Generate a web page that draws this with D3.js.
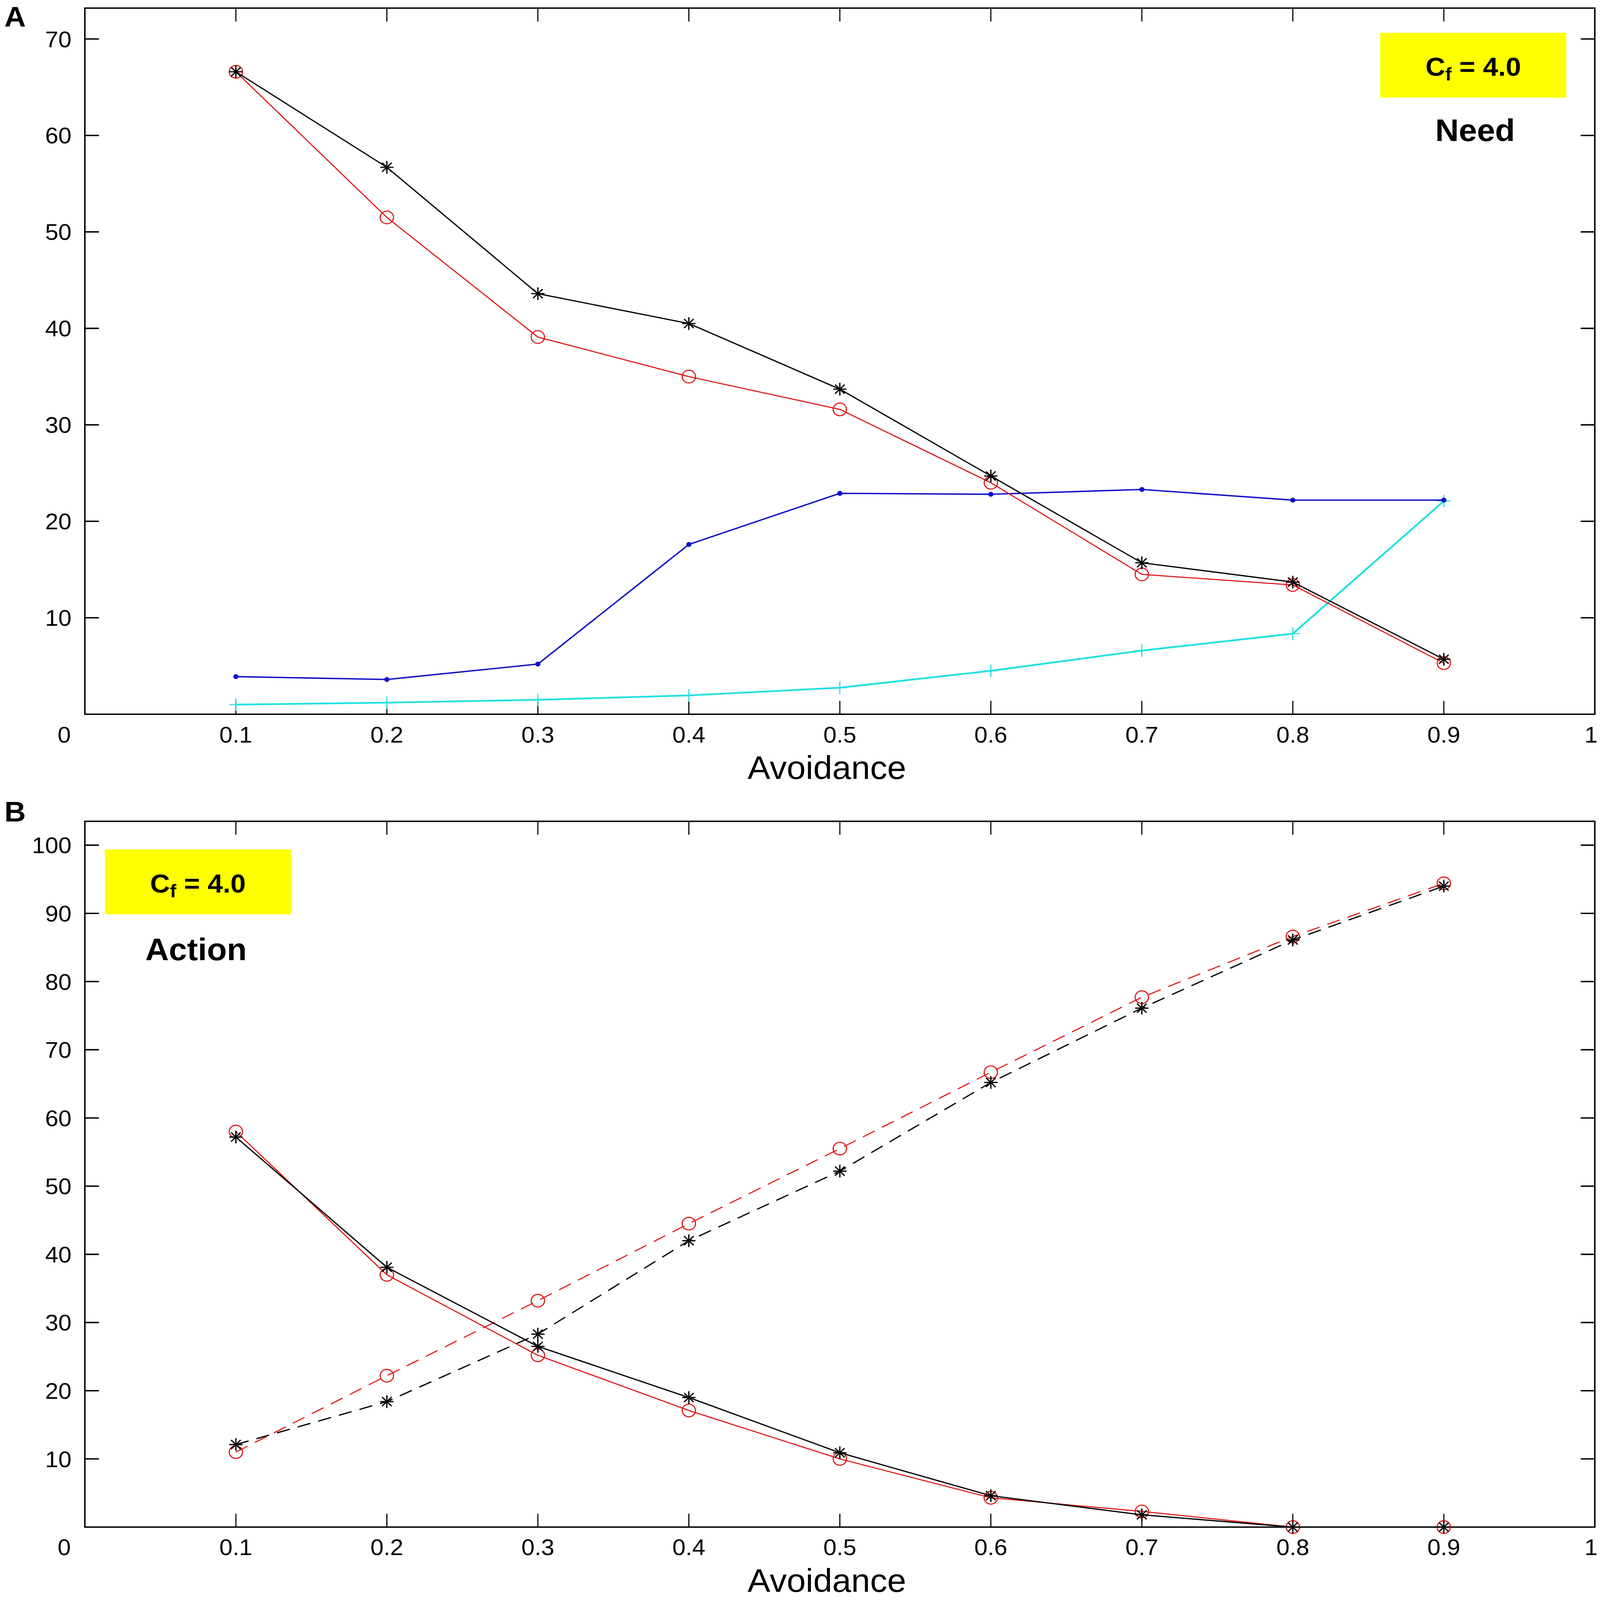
<!DOCTYPE html>
<html>
<head>
<meta charset="utf-8">
<script src="https://cdn.jsdelivr.net/npm/d3@7"></script>
<style>
  html, body { margin: 0; padding: 0; background: #fff; width: 100%; height: 100%; overflow: hidden; }
  svg { display: block; width: 100vw; height: 100vh; }
  text { font-family: "Liberation Sans", Arial, Helvetica, sans-serif; }
</style>
</head>
<body>
<script>
// ---------------- DATA ----------------
const avoidance = [0.1, 0.2, 0.3, 0.4, 0.5, 0.6, 0.7, 0.8, 0.9];
const xTickValues = [0.1, 0.2, 0.3, 0.4, 0.5, 0.6, 0.7, 0.8, 0.9, 1];

// Panel A: Need
const needBlackStar = [66.6, 56.7, 43.6, 40.5, 33.7, 24.7, 15.7, 13.7, 5.7];
const needRedCircle = [66.6, 51.5, 39.1, 35.0, 31.6, 24.0, 14.5, 13.4, 5.3];
const needBlueDot   = [3.9, 3.6, 5.2, 17.6, 22.9, 22.8, 23.3, 22.2, 22.2];
const needCyanPlus  = [1.0, 1.2, 1.5, 1.95, 2.75, 4.5, 6.6, 8.35, 22.1];
const yTicksA = [10, 20, 30, 40, 50, 60, 70];

// Panel B: Action
const actionBlackSolid  = [57.2, 38.1, 26.5, 19.0, 10.9, 4.6, 1.8, 0, 0];
const actionRedSolid    = [58.0, 37.0, 25.2, 17.1, 10.0, 4.3, 2.3, 0, 0];
const actionBlackDashed = [12.1, 18.4, 28.3, 42.0, 52.2, 65.2, 76.1, 86.1, 94.0];
const actionRedDashed   = [11.0, 22.2, 33.2, 44.5, 55.5, 66.7, 77.7, 86.6, 94.4];
const yTicksB = [10, 20, 30, 40, 50, 60, 70, 80, 90, 100];

const xLabel = "Avoidance";
const boxLabelMain = "C";
const boxLabelSub = "f";
const boxLabelRest = " = 4.0";

// ---------------- LAYOUT ----------------
const W = 4317, H = 4543;
const svg = d3.select("body").append("svg")
  .attr("viewBox", `0 0 ${W} ${H}`)
  .attr("preserveAspectRatio", "none");

const RED = "#e01010", BLACK = "#000", BLUE = "#1212c8", CYAN = "#22e0e0";

function panel(cfg) {
  const g = svg.append("g");
  const x = d3.scaleLinear().domain([0, 1]).range([229, 4303]);
  const y = d3.scaleLinear().domain([0, cfg.yMax]).range([cfg.bottom, cfg.top]);
  const tickLen = 38;

  g.append("rect").attr("x", x(0)).attr("y", y(cfg.yMax))
    .attr("width", x(1) - x(0)).attr("height", y(0) - y(cfg.yMax))
    .attr("fill", "none").attr("stroke", "#000").attr("stroke-width", 4);

  xTickValues.filter(v => v < 1).forEach(v => {
    g.append("line").attr("x1", x(v)).attr("x2", x(v)).attr("y1", y(0)).attr("y2", y(0) - tickLen)
      .attr("stroke", "#000").attr("stroke-width", 3);
    g.append("line").attr("x1", x(v)).attr("x2", x(v)).attr("y1", y(cfg.yMax)).attr("y2", y(cfg.yMax) + tickLen)
      .attr("stroke", "#000").attr("stroke-width", 3);
  });
  cfg.yTicks.forEach(v => {
    g.append("line").attr("x1", x(0)).attr("x2", x(0) + tickLen).attr("y1", y(v)).attr("y2", y(v))
      .attr("stroke", "#000").attr("stroke-width", 4);
    g.append("line").attr("x1", x(1)).attr("x2", x(1) - tickLen).attr("y1", y(v)).attr("y2", y(v))
      .attr("stroke", "#000").attr("stroke-width", 4);
  });

  xTickValues.forEach(v => {
    g.append("text").attr("x", v === 1 ? x(v) - 10 : x(v)).attr("y", y(0) + 80)
      .attr("text-anchor", "middle").attr("font-size", 64).text(String(v));
  });
  g.append("text").attr("x", x(0) - 38).attr("y", y(0) + 80)
    .attr("text-anchor", "end").attr("font-size", 64).text("0");
  cfg.yTicks.forEach(v => {
    g.append("text").attr("x", x(0) - 36).attr("y", y(v)).attr("dy", "0.36em")
      .attr("text-anchor", "end").attr("font-size", 64).text(String(v));
  });

  g.append("text").attr("x", (x(0) + x(1)) / 2 - 35).attr("y", y(0) + 184)
    .attr("text-anchor", "middle").attr("font-size", 92).text(xLabel);

  g.append("text").attr("x", 12).attr("y", cfg.letterY)
    .attr("font-size", 80).attr("font-weight", "bold").text(cfg.letter);

  const bx = cfg.boxX, by = cfg.boxY;
  g.append("rect").attr("x", bx).attr("y", by).attr("width", 502).attr("height", 184).attr("fill", "#ffff00");
  const t = g.append("text").attr("x", bx + 251).attr("y", by + 122)
    .attr("text-anchor", "middle").attr("font-size", 74).attr("font-weight", "bold");
  t.append("tspan").text(boxLabelMain);
  t.append("tspan").attr("font-size", 52).attr("dy", 14).text(boxLabelSub);
  t.append("tspan").attr("dy", -14).text(boxLabelRest);
  g.append("text").attr("x", cfg.nameX).attr("y", cfg.nameY)
    .attr("text-anchor", "middle").attr("font-size", 88).attr("font-weight", "bold").text(cfg.name);

  return { g, x, y };
}

function drawSeries(P, values, opt) {
  const pts = avoidance.map((a, i) => [P.x(a), P.y(values[i])]);
  const line = d3.line();
  P.g.append("path").attr("d", line(pts)).attr("fill", "none")
    .attr("stroke", opt.color).attr("stroke-width", opt.width || 3)
    .attr("stroke-dasharray", opt.dash || null)
    .attr("stroke-linejoin", "round");
  const r = 18;
  pts.forEach(([px, py]) => {
    if (opt.marker === "circle") {
      P.g.append("circle").attr("cx", px).attr("cy", py).attr("r", r)
        .attr("fill", "none").attr("stroke", opt.color).attr("stroke-width", 3);
    } else if (opt.marker === "star") {
      const d = r * 0.72;
      const p = `M${px - r},${py}L${px + r},${py}M${px},${py - r}L${px},${py + r}` +
                `M${px - d},${py - d}L${px + d},${py + d}M${px - d},${py + d}L${px + d},${py - d}`;
      P.g.append("path").attr("d", p).attr("stroke", opt.color).attr("stroke-width", 3.5).attr("fill", "none");
    } else if (opt.marker === "plus") {
      const p = `M${px - r},${py}L${px + r},${py}M${px},${py - r}L${px},${py + r}`;
      P.g.append("path").attr("d", p).attr("stroke", opt.color).attr("stroke-width", 3).attr("fill", "none");
    } else if (opt.marker === "dot") {
      P.g.append("circle").attr("cx", px).attr("cy", py).attr("r", 7).attr("fill", opt.color);
    }
  });
}

const A = panel({
  top: 23, bottom: 2028, yMax: 73.2, yTicks: yTicksA,
  letter: "A", letterY: 75, name: "Need",
  boxX: 3724, boxY: 93, nameX: 3980, nameY: 400
});
drawSeries(A, needCyanPlus, { color: CYAN, marker: "plus", width: 5 });
drawSeries(A, needBlueDot, { color: BLUE, marker: "dot", width: 4 });
drawSeries(A, needRedCircle, { color: RED, marker: "circle", width: 3 });
drawSeries(A, needBlackStar, { color: BLACK, marker: "star", width: 3.5 });

const B = panel({
  top: 2332, bottom: 4336, yMax: 103.5, yTicks: yTicksB,
  letter: "B", letterY: 2333, name: "Action",
  boxX: 283, boxY: 2412, nameX: 529, nameY: 2726
});
drawSeries(B, actionRedDashed, { color: RED, marker: "circle", width: 3, dash: "36,22" });
drawSeries(B, actionBlackDashed, { color: BLACK, marker: "star", width: 3.5, dash: "36,22" });
drawSeries(B, actionRedSolid, { color: RED, marker: "circle", width: 3 });
drawSeries(B, actionBlackSolid, { color: BLACK, marker: "star", width: 3.5 });
</script>
</body>
</html>
